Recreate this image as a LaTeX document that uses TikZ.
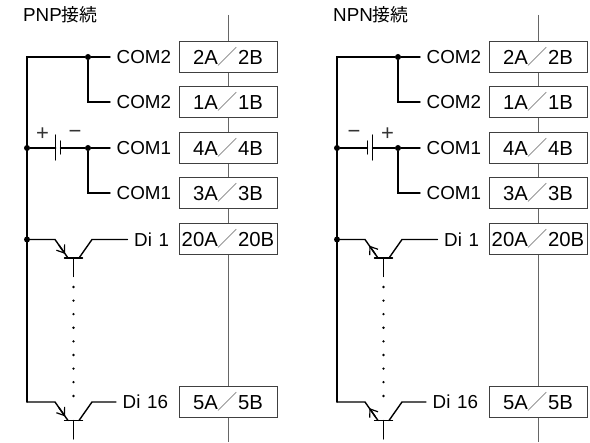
\documentclass[tikz,border=0pt]{standalone}
\usepackage{fontspec}
\setmainfont{Liberation Sans}
\newfontfamily\cjk{Noto Sans CJK JP}[Scale=0.95]
\newfontfamily\cjkslash{Noto Sans CJK JP}[Scale=1.0]
\usetikzlibrary{arrows.meta}
\tikzset{
  wire/.style={line width=1.4pt,line cap=round,line join=miter},
  rail/.style={line width=1pt,draw=black!60},
  pinbox/.style={draw=black!75,fill=white,line width=1pt,minimum width=98pt,minimum height=30.5pt,inner sep=0pt,font=\fontsize{20.3}{22}\selectfont},
  pinlabel/.style={anchor=west,inner xsep=6.5pt,inner ysep=0pt,font=\fontsize{18.8}{20}\selectfont},
  junction/.style={circle,fill=black,inner sep=0pt,minimum size=6pt},
  titlelabel/.style={anchor=base west,inner sep=0pt,font=\fontsize{18.8}{20}\selectfont},
  sign/.style={inner sep=0pt,font=\fontsize{22}{24}\selectfont,text=black!80},
  dotmark/.style={circle,fill=black,inner sep=0pt,minimum size=2.6pt},
  transarrow/.style={-{Straight Barb[length=7pt,width=10pt,line width=1.2pt]}},
}
\newcommand{\slsh}{{\color{black!50}\cjkslash ／}}
\newcommand{\transistor}[5]{%
  \coordinate (#1a) at (55,#2);
  \coordinate (#1e) at (68,#2+18.5);
  \coordinate (#1c) at (79,#2+18.5);
  \coordinate (#1d) at (92,#2);
  \coordinate (#1bl) at (64.5,#2+18.5);
  \coordinate (#1br) at (82.5,#2+18.5);
  \coordinate (#1m) at (73.5,#2+18.5);
  \coordinate (#1s) at (73.5,#2+37);
  \draw[wire] (#3) -- (#1a) -- (#1e);
  \draw[wire] (#1c) -- (#1d) -- (#4.west);
  \draw[wire] (#1bl) -- (#1br);
  \draw[wire] (#1m) -- (#1s);
  \ifnum#5=1
    \path (#1a) -- (#1e) coordinate[pos=0.3] (#1p) coordinate[pos=0.78] (#1q);
    \draw[wire,transarrow] (#1p) -- (#1q);
  \else
    \path (#1a) -- (#1e) coordinate[pos=0.8] (#1p) coordinate[pos=0.33] (#1q);
    \draw[wire,transarrow] (#1p) -- (#1q);
  \fi}
\newcommand{\panel}[4]{%
 \begin{scope}[shift={(#2,0)}]
  \node[titlelabel] (#1title) at (23,22) {#3\cjk 接続};
  \coordinate (#1top) at (228,15);
  \coordinate (#1bot) at (228,442);
  \node[pinbox] (#1b1) at (228,57) {2A\slsh 2B};
  \node[pinbox] (#1b2) at (228,102) {1A\slsh 1B};
  \node[pinbox] (#1b3) at (228,148) {4A\slsh 4B};
  \node[pinbox] (#1b4) at (228,193) {3A\slsh 3B};
  \node[pinbox] (#1b5) at (228,239) {20A\slsh 20B};
  \node[pinbox] (#1b6) at (228,402) {5A\slsh 5B};
  \draw[rail] (#1top) -- (#1b1) (#1b1) -- (#1b2) (#1b2) -- (#1b3) (#1b3) -- (#1b4) (#1b4) -- (#1b5) (#1b5) -- (#1b6) (#1b6) -- (#1bot);
  \node[pinlabel] (#1c1) at (110,57) {COM2};
  \node[pinlabel] (#1c2) at (110,102) {COM2};
  \node[pinlabel] (#1c3) at (110,148) {COM1};
  \node[pinlabel] (#1c4) at (110,193) {COM1};
  \node[pinlabel] (#1d1) at (127.5,239.5) {Di\hspace{1.5pt} 1};
  \node[pinlabel] (#1d2) at (116,402) {Di\hspace{1.5pt} 16};
  \coordinate (#1bustop) at (27,57);
  \coordinate (#1busbot) at (27,402);
  \node[junction] (#1j1) at (88,57) {};
  \node[junction] (#1j2) at (88,148) {};
  \node[junction] (#1j3) at (27,148) {};
  \node[junction] (#1j4) at (27,239.5) {};
  \draw[wire] (#1c1.west) -- (#1j1) -- (#1bustop) -- (#1busbot);
  \draw[wire] (#1j1) |- (#1c2.west);
  \draw[wire] (#1j2) -- (#1c3.west);
  \draw[wire] (#1j2) |- (#1c4.west);
  \transistor{#1t1}{239.5}{#1j4}{#1d1}{#4}
  \transistor{#1t2}{402}{#1busbot}{#1d2}{#4}
  \foreach \n/\y in {1/287,2/300.6,3/314.2,4/327.8,5/341.4,6/355,7/368.6,8/382.2,9/396}
    \node[dotmark] (#1dot\n) at (73.5,\y) {};
 \end{scope}}
\begin{document}
\begin{tikzpicture}[x=1pt,y=-1pt]
  \useasboundingbox (0,0) rectangle (590,443);
  \fill[white] (0,0) rectangle (590,443);
  \panel{L}{0}{PNP}{1}
  \panel{R}{310}{NPN}{0}
  \coordinate (Lpt) at (55.7,135);
  \coordinate (Lpb) at (55.7,160);
  \coordinate (Lnt) at (60.5,141);
  \coordinate (Lnb) at (60.5,154);
  \coordinate (Lpm) at (55.7,148);
  \coordinate (Lnm) at (60.5,148);
  \draw[wire] (Lj3) -- (Lpm);
  \draw[wire] (Lpt) -- (Lpb);
  \draw[wire] (Lnt) -- (Lnb);
  \draw[wire] (Lnm) -- (Lj2);
  \node[sign] (Lplus) at (42.5,134.5) {+};
  \node[sign] (Lminus) at (75,134) {−};
  \coordinate (Rnt) at (367.5,141);
  \coordinate (Rnb) at (367.5,154);
  \coordinate (Rpt) at (372.5,135);
  \coordinate (Rpb) at (372.5,160);
  \coordinate (Rnm) at (367.5,148);
  \coordinate (Rpm) at (372.5,148);
  \draw[wire] (Rj3) -- (Rnm);
  \draw[wire] (Rnt) -- (Rnb);
  \draw[wire] (Rpt) -- (Rpb);
  \draw[wire] (Rpm) -- (Rj2);
  \node[sign] (Rminus) at (354,134) {−};
  \node[sign] (Rplus) at (387.5,134.5) {+};
\end{tikzpicture}
\end{document}
